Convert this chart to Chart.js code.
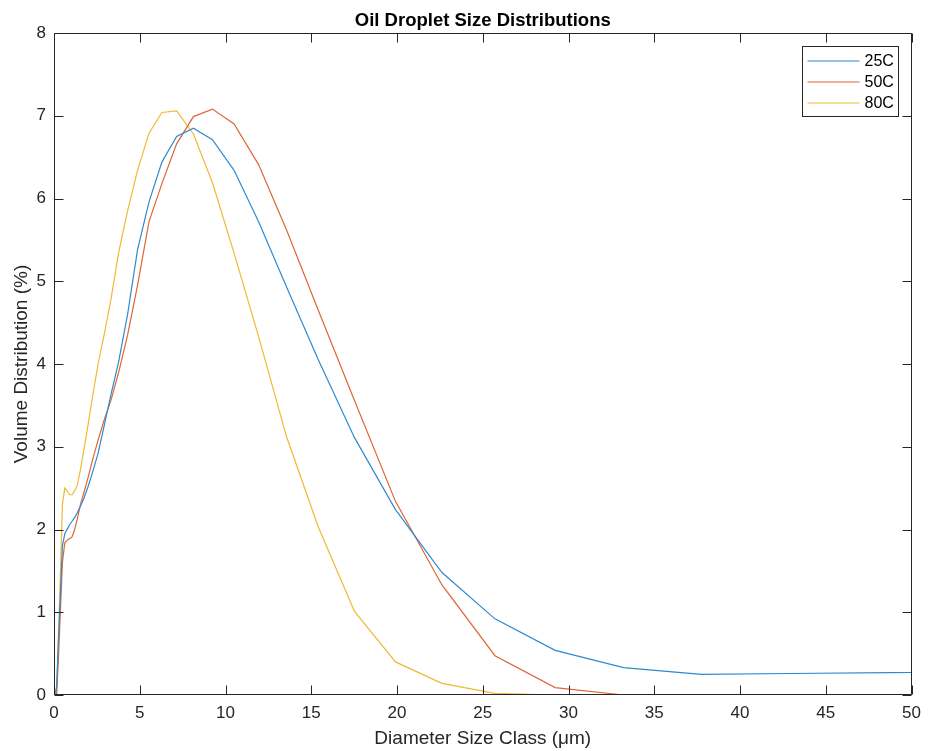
<!DOCTYPE html>
<html>
<head>
<meta charset="utf-8">
<title>Oil Droplet Size Distributions</title>
<script src="https://cdn.jsdelivr.net/npm/chart.js@4/dist/chart.umd.min.js"></script>
<style>
  html, body { margin: 0; padding: 0; background: #ffffff; }
  #wrap { width: 929px; height: 751px; }
</style>
</head>
<body>
<div id="wrap"><canvas id="chart" width="929" height="751"></canvas></div>
<script>
// Diameter size classes (µm), geometric spacing
const sizeClass = [0.05, 0.15, 0.26, 0.38, 0.49, 0.63, 0.81, 0.92, 1.05, 1.19,
                   1.35, 1.54, 1.75, 1.99, 2.26, 2.57, 2.92, 3.32, 3.77, 4.29,
                   4.87, 5.54, 6.29, 7.15, 8.13, 9.24, 10.50, 11.93, 13.56, 15.41,
                   17.52, 19.91, 22.62, 25.71, 29.22, 33.21, 37.74, 42.89, 48.75, 55.40];

// Volume distribution (%) per size class
const dist25C = [0, 0.10, 0.67, 1.25, 1.80, 1.95, 2.02, 2.06, 2.10, 2.14,
                 2.20, 2.28, 2.38, 2.52, 2.70, 2.92, 3.25, 3.63, 4.03, 4.60,
                 5.38, 5.96, 6.44, 6.75, 6.85, 6.71, 6.34, 5.72, 4.93, 4.05,
                 3.11, 2.24, 1.48, 0.92, 0.54, 0.33, 0.25, 0.26, 0.27, 0.28];

const dist50C = [0, 0, 0.45, 1.05, 1.60, 1.84, 1.88, 1.89, 1.91, 1.99,
                 2.12, 2.30, 2.45, 2.63, 2.85, 3.08, 3.32, 3.56, 3.90, 4.35,
                 4.95, 5.72, 6.18, 6.66, 6.99, 7.08, 6.90, 6.41, 5.62, 4.65,
                 3.56, 2.34, 1.33, 0.475, 0.09, 0, 0, 0, 0, 0.04];

const dist80C = [0, 0, 0.70, 1.50, 2.30, 2.50, 2.45, 2.42, 2.42, 2.46,
                 2.53, 2.72, 2.97, 3.27, 3.62, 4.00, 4.35, 4.78, 5.35, 5.85,
                 6.34, 6.79, 7.04, 7.06, 6.78, 6.19, 5.34, 4.33, 3.12, 2.03,
                 1.01, 0.40, 0.14, 0.02, 0, 0, 0, 0, 0, 0.02];

const seriesNames = ['25C', '50C', '80C'];
const seriesColors = ['#2d8ad0', '#df6536', '#efb935'];

const chartTitle = 'Oil Droplet Size Distributions';
const xLabel = 'Diameter Size Class (μm)';
const yLabel = 'Volume Distribution (%)';

const xRange = [0, 50];
const yRange = [0, 8];
const xStep = 5;
const yStep = 1;

const FONT = '"Liberation Sans", Arial, Helvetica, sans-serif';
const AXIS_COLOR = '#262626';

function toPoints(values) {
  return sizeClass.map((x, i) => ({ x: x, y: values[i] }));
}

// Bold title centred over the axes
const axesTitlePlugin = {
  id: 'axesTitle',
  afterDraw(chart) {
    const { ctx, chartArea: a } = chart;
    ctx.save();
    ctx.font = 'bold 18.5px ' + FONT;
    ctx.fillStyle = '#000000';
    ctx.textAlign = 'center';
    ctx.textBaseline = 'middle';
    ctx.fillText(chartTitle, (a.left + a.right) / 2, 21);
    ctx.restore();
  }
};

// Axes box with inward tick marks on all four sides
const boxAxesPlugin = {
  id: 'boxAxes',
  afterDatasetsDraw(chart) {
    const { ctx, chartArea: a, scales } = chart;
    const len = 9;
    ctx.save();
    ctx.strokeStyle = AXIS_COLOR;
    ctx.lineWidth = 1;
    ctx.beginPath();
    const L = Math.round(a.left) + 0.5, R = Math.round(a.right) - 0.5;
    const T = Math.round(a.top) + 0.5, B = Math.round(a.bottom) - 0.5;
    ctx.rect(L, T, R - L, B - T);
    scales.x.ticks.forEach(t => {
      const px = Math.round(scales.x.getPixelForValue(t.value)) + 0.5;
      ctx.moveTo(px, B); ctx.lineTo(px, B - len);
      ctx.moveTo(px, T); ctx.lineTo(px, T + len);
    });
    scales.y.ticks.forEach(t => {
      const py = Math.round(scales.y.getPixelForValue(t.value)) + 0.5;
      ctx.moveTo(L, py); ctx.lineTo(L + len, py);
      ctx.moveTo(R, py); ctx.lineTo(R - len, py);
    });
    ctx.stroke();
    ctx.restore();
  }
};

// Boxed legend in the upper right corner of the axes
const boxLegendPlugin = {
  id: 'boxLegend',
  afterDraw(chart) {
    const { ctx, chartArea: a } = chart;
    const w = 96, h = 70;
    const x0 = Math.round(a.right) - 110 + 0.5;
    const y0 = Math.round(a.top) + 13 + 0.5;
    ctx.save();
    ctx.fillStyle = '#ffffff';
    ctx.fillRect(x0, y0, w, h);
    ctx.strokeStyle = AXIS_COLOR;
    ctx.lineWidth = 1;
    ctx.strokeRect(x0, y0, w, h);
    ctx.font = '16px ' + FONT;
    ctx.textBaseline = 'middle';
    ctx.textAlign = 'left';
    chart.data.datasets.forEach((ds, i) => {
      const cy = y0 + 14 + i * 21;
      ctx.strokeStyle = ds.borderColor;
      ctx.lineWidth = 1.2;
      ctx.beginPath();
      ctx.moveTo(x0 + 5, Math.round(cy));
      ctx.lineTo(x0 + 57, Math.round(cy));
      ctx.stroke();
      ctx.fillStyle = '#000000';
      ctx.fillText(ds.label, x0 + 62, cy + 1);
    });
    ctx.restore();
  }
};

const datasets = [dist25C, dist50C, dist80C].map((vals, i) => ({
  label: seriesNames[i],
  data: toPoints(vals),
  borderColor: seriesColors[i],
  backgroundColor: seriesColors[i],
  borderWidth: 1.2,
  pointRadius: 0,
  pointHoverRadius: 0,
  tension: 0,
  fill: false
}));

new Chart(document.getElementById('chart'), {
  type: 'line',
  data: { datasets: datasets },
  options: {
    responsive: false,
    animation: false,
    devicePixelRatio: 1,
    layout: { padding: { left: 0, right: 13, top: 33, bottom: 0 } },
    plugins: {
      legend: { display: false },
      tooltip: { enabled: false },
      title: { display: false }
    },
    scales: {
      x: {
        type: 'linear',
        min: xRange[0],
        max: xRange[1],
        grid: { drawOnChartArea: false, drawTicks: false },
        border: { display: false },
        ticks: {
          stepSize: xStep,
          color: AXIS_COLOR,
          font: { family: FONT, size: 17 },
          padding: 8,
          maxRotation: 0
        },
        title: {
          display: true,
          text: xLabel,
          color: AXIS_COLOR,
          font: { family: FONT, size: 19 },
          padding: { top: 0, bottom: 0.5 }
        },
        afterFit(scale) { scale.height = 56; }
      },
      y: {
        type: 'linear',
        min: yRange[0],
        max: yRange[1],
        grid: { drawOnChartArea: false, drawTicks: false },
        border: { display: false },
        ticks: {
          stepSize: yStep,
          color: AXIS_COLOR,
          font: { family: FONT, size: 17 },
          padding: 8
        },
        title: {
          display: true,
          text: yLabel,
          color: AXIS_COLOR,
          font: { family: FONT, size: 19 },
          padding: { top: 10, bottom: 0 }
        },
        afterFit(scale) { scale.width = 54; }
      }
    }
  },
  plugins: [boxAxesPlugin, boxLegendPlugin, axesTitlePlugin]
});
</script>
</body>
</html>
